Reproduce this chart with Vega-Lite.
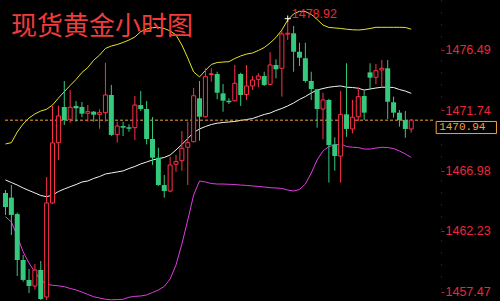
{
  "$schema": "https://vega.github.io/schema/vega-lite/v6.json",
  "width": 500,
  "height": 301,
  "padding": 0,
  "autosize": "none",
  "background": "#000000",
  "config": {
    "view": {"stroke": null},
    "axisX": {"disable": true},
    "axisY": {"grid": false, "title": null}
  },
  "datasets": {
    "candles": [
      {"i":0,"o":1465.22,"h":1465.45,"l":1463.49,"c":1464.11,"u":1469.07,"m":1466.24,"d":1463.35},
      {"i":1,"o":1464.85,"h":1465.84,"l":1461.91,"c":1463.49,"u":1469.17,"m":1466.04,"d":1462.94},
      {"i":2,"o":1463.56,"h":1463.67,"l":1458.69,"c":1459.95,"u":1470.01,"m":1465.84,"d":1461.84},
      {"i":3,"o":1459.95,"h":1460.34,"l":1458.24,"c":1458.38,"u":1470.64,"m":1465.61,"d":1460.58},
      {"i":4,"o":1458.38,"h":1459.24,"l":1457.35,"c":1457.90,"u":1471.11,"m":1465.41,"d":1459.71},
      {"i":5,"o":1457.90,"h":1459.63,"l":1457.64,"c":1459.16,"u":1471.43,"m":1465.22,"d":1459.00},
      {"i":6,"o":1459.16,"h":1459.87,"l":1456.80,"c":1456.88,"u":1471.66,"m":1465.02,"d":1458.38},
      {"i":7,"o":1457.04,"h":1466.47,"l":1456.80,"c":1464.43,"u":1471.80,"m":1464.92,"d":1458.04},
      {"i":8,"o":1464.43,"h":1472.08,"l":1464.35,"c":1469.15,"u":1472.13,"m":1465.06,"d":1457.96},
      {"i":9,"o":1469.17,"h":1472.08,"l":1467.81,"c":1471.27,"u":1472.68,"m":1465.33,"d":1457.92},
      {"i":10,"o":1471.98,"h":1474.02,"l":1470.56,"c":1470.95,"u":1473.18,"m":1465.53,"d":1457.85},
      {"i":11,"o":1471.01,"h":1473.31,"l":1470.74,"c":1471.95,"u":1473.67,"m":1465.71,"d":1457.71},
      {"i":12,"o":1472.06,"h":1472.45,"l":1470.82,"c":1471.87,"u":1474.14,"m":1465.88,"d":1457.59},
      {"i":13,"o":1471.98,"h":1472.37,"l":1471.17,"c":1471.45,"u":1474.69,"m":1466.08,"d":1457.43},
      {"i":14,"o":1471.48,"h":1472.13,"l":1470.82,"c":1471.61,"u":1475.08,"m":1466.16,"d":1457.24},
      {"i":15,"o":1471.61,"h":1471.66,"l":1470.82,"c":1471.37,"u":1475.65,"m":1466.36,"d":1457.06},
      {"i":16,"o":1471.40,"h":1471.80,"l":1470.27,"c":1471.53,"u":1476.06,"m":1466.51,"d":1456.96},
      {"i":17,"o":1471.53,"h":1475.46,"l":1470.82,"c":1472.92,"u":1476.58,"m":1466.71,"d":1456.86},
      {"i":18,"o":1472.92,"h":1473.71,"l":1469.70,"c":1469.78,"u":1476.77,"m":1466.79,"d":1456.82},
      {"i":19,"o":1469.80,"h":1470.82,"l":1469.17,"c":1470.48,"u":1476.89,"m":1466.87,"d":1456.84},
      {"i":20,"o":1470.48,"h":1470.82,"l":1469.70,"c":1470.35,"u":1477.05,"m":1466.95,"d":1456.86},
      {"i":21,"o":1470.38,"h":1470.62,"l":1470.03,"c":1470.27,"u":1477.24,"m":1467.14,"d":1457.02},
      {"i":22,"o":1470.35,"h":1472.84,"l":1469.38,"c":1472.13,"u":1477.48,"m":1467.30,"d":1457.09},
      {"i":23,"o":1472.13,"h":1473.23,"l":1471.66,"c":1471.82,"u":1477.90,"m":1467.50,"d":1457.12},
      {"i":24,"o":1471.82,"h":1472.45,"l":1469.04,"c":1469.46,"u":1478.11,"m":1467.65,"d":1457.20},
      {"i":25,"o":1469.46,"h":1471.19,"l":1467.42,"c":1467.99,"u":1478.21,"m":1467.81,"d":1457.39},
      {"i":26,"o":1467.99,"h":1468.78,"l":1465.77,"c":1465.84,"u":1478.24,"m":1467.91,"d":1457.59},
      {"i":27,"o":1465.84,"h":1466.63,"l":1464.85,"c":1465.37,"u":1478.15,"m":1468.01,"d":1457.87},
      {"i":28,"o":1465.37,"h":1468.07,"l":1465.27,"c":1467.42,"u":1477.95,"m":1468.20,"d":1458.45},
      {"i":29,"o":1467.47,"h":1468.20,"l":1466.89,"c":1467.68,"u":1477.64,"m":1468.60,"d":1459.56},
      {"i":30,"o":1467.75,"h":1470.09,"l":1466.97,"c":1468.73,"u":1476.85,"m":1469.03,"d":1461.21},
      {"i":31,"o":1468.81,"h":1470.82,"l":1465.84,"c":1469.17,"u":1475.83,"m":1469.50,"d":1463.09},
      {"i":32,"o":1469.25,"h":1473.47,"l":1469.19,"c":1472.86,"u":1474.73,"m":1469.97,"d":1465.06},
      {"i":33,"o":1472.66,"h":1474.02,"l":1469.33,"c":1471.21,"u":1474.34,"m":1470.25,"d":1466.16},
      {"i":34,"o":1471.21,"h":1475.02,"l":1471.15,"c":1474.36,"u":1474.85,"m":1470.44,"d":1466.08},
      {"i":35,"o":1474.53,"h":1475.02,"l":1473.97,"c":1474.59,"u":1475.32,"m":1470.60,"d":1465.96},
      {"i":36,"o":1474.57,"h":1474.75,"l":1472.58,"c":1473.10,"u":1475.47,"m":1470.70,"d":1465.92},
      {"i":37,"o":1473.05,"h":1473.78,"l":1471.61,"c":1472.47,"u":1475.51,"m":1470.76,"d":1465.92},
      {"i":38,"o":1472.47,"h":1472.66,"l":1472.21,"c":1472.35,"u":1475.54,"m":1470.80,"d":1465.90},
      {"i":39,"o":1472.47,"h":1475.28,"l":1472.41,"c":1473.84,"u":1475.79,"m":1470.84,"d":1465.88},
      {"i":40,"o":1474.57,"h":1474.67,"l":1472.06,"c":1472.92,"u":1475.99,"m":1470.92,"d":1465.84},
      {"i":41,"o":1472.96,"h":1475.28,"l":1472.53,"c":1473.63,"u":1476.14,"m":1470.99,"d":1465.81},
      {"i":42,"o":1473.63,"h":1474.41,"l":1473.31,"c":1474.10,"u":1476.22,"m":1471.07,"d":1465.77},
      {"i":43,"o":1474.15,"h":1474.63,"l":1473.53,"c":1474.41,"u":1476.42,"m":1471.23,"d":1465.73},
      {"i":44,"o":1474.41,"h":1474.75,"l":1473.63,"c":1473.71,"u":1476.65,"m":1471.39,"d":1465.69},
      {"i":45,"o":1473.76,"h":1476.28,"l":1473.71,"c":1475.28,"u":1477.01,"m":1471.50,"d":1465.63},
      {"i":46,"o":1475.28,"h":1475.73,"l":1474.23,"c":1474.94,"u":1477.44,"m":1471.70,"d":1465.61},
      {"i":47,"o":1475.02,"h":1478.09,"l":1472.79,"c":1477.72,"u":1478.03,"m":1471.86,"d":1465.57},
      {"i":48,"o":1477.70,"h":1478.92,"l":1477.24,"c":1477.78,"u":1478.82,"m":1472.06,"d":1465.45},
      {"i":49,"o":1477.77,"h":1478.34,"l":1474.75,"c":1476.32,"u":1479.29,"m":1472.29,"d":1465.37},
      {"i":50,"o":1476.32,"h":1477.03,"l":1475.20,"c":1475.85,"u":1479.50,"m":1472.57,"d":1465.49},
      {"i":51,"o":1475.81,"h":1477.03,"l":1473.89,"c":1474.02,"u":1479.48,"m":1472.80,"d":1465.92},
      {"i":52,"o":1474.02,"h":1474.75,"l":1472.53,"c":1473.39,"u":1479.25,"m":1473.08,"d":1466.79},
      {"i":53,"o":1473.37,"h":1473.40,"l":1470.35,"c":1471.82,"u":1478.86,"m":1473.31,"d":1467.81},
      {"i":54,"o":1471.82,"h":1473.10,"l":1469.44,"c":1472.53,"u":1478.42,"m":1473.43,"d":1468.52},
      {"i":55,"o":1472.53,"h":1472.61,"l":1466.03,"c":1468.99,"u":1478.23,"m":1473.53,"d":1468.87},
      {"i":56,"o":1469.04,"h":1469.59,"l":1466.97,"c":1468.12,"u":1478.19,"m":1473.59,"d":1468.99},
      {"i":57,"o":1468.12,"h":1473.23,"l":1466.03,"c":1471.40,"u":1478.15,"m":1473.63,"d":1469.07},
      {"i":58,"o":1471.40,"h":1475.41,"l":1469.64,"c":1470.25,"u":1478.09,"m":1473.53,"d":1468.87},
      {"i":59,"o":1470.25,"h":1472.53,"l":1469.91,"c":1471.17,"u":1478.05,"m":1473.51,"d":1468.81},
      {"i":60,"o":1471.21,"h":1473.53,"l":1470.88,"c":1472.79,"u":1478.03,"m":1473.45,"d":1468.79},
      {"i":61,"o":1472.84,"h":1473.26,"l":1470.95,"c":1471.53,"u":1478.07,"m":1473.31,"d":1468.67},
      {"i":62,"o":1474.70,"h":1475.41,"l":1473.37,"c":1474.28,"u":1478.15,"m":1473.39,"d":1468.67},
      {"i":63,"o":1474.31,"h":1475.36,"l":1473.76,"c":1474.83,"u":1478.24,"m":1473.47,"d":1468.75},
      {"i":64,"o":1474.89,"h":1475.67,"l":1473.53,"c":1475.02,"u":1478.24,"m":1473.53,"d":1468.81},
      {"i":65,"o":1475.02,"h":1475.67,"l":1471.03,"c":1472.39,"u":1478.24,"m":1473.53,"d":1468.79},
      {"i":66,"o":1472.35,"h":1472.79,"l":1471.14,"c":1471.53,"u":1478.24,"m":1473.51,"d":1468.71},
      {"i":67,"o":1471.53,"h":1471.74,"l":1470.43,"c":1470.95,"u":1478.24,"m":1473.35,"d":1468.52},
      {"i":68,"o":1470.95,"h":1471.66,"l":1469.56,"c":1470.25,"u":1478.23,"m":1473.23,"d":1468.28},
      {"i":69,"o":1470.25,"h":1471.00,"l":1469.96,"c":1470.94,"u":1478.09,"m":1473.05,"d":1468.02}
    ],
    "marks": [
      {"i": 48, "price": 1478.92, "label": "1478.92"}
    ],
    "titles": [
      {"label": "现货黄金小时图", "x": -0.0833, "y": 1477.64}
    ],
    "last": [
      {"price": 1470.94, "label": "1470.94", "x0": -0.08, "xend": 72.9, "bx": 73.25, "bx2": 83.5, "btop": 1470.84, "bbot": 1469.89, "ty": 1470.37, "tx": 73.75}
    ]
  },
  "layer": [
    {
      "data": {"name": "candles"},
      "mark": {"type": "line", "color": "#e4e42a", "strokeWidth": 1, "clip": true},
      "encoding": {
        "x": {"field": "i", "type": "quantitative", "scale": {"domain": [-0.0833, 83.25], "nice": false, "zero": false}},
        "y": {"field": "u", "type": "quantitative", "title": null,
              "scale": {"domain": [1456.725, 1480.388], "nice": false, "zero": false},
              "axis": {"orient": "right", "offset": -59, "values": [1476.49, 1471.74, 1466.98, 1462.23, 1457.47], "format": ".2f",
                       "labelColor": "#e8283c", "labelFont": "Liberation Sans", "labelFontSize": 12.5,
                       "tickColor": "#b0202c", "tickSize": 3, "labelPadding": 1, "labelFlush": false, "labelOverlap": false,
                       "domainColor": "#3a3a3a", "domainDash": [1, 11], "grid": false, "title": null}}
      }
    },
    {
      "data": {"name": "candles"},
      "mark": {"type": "line", "color": "#f2f2f2", "strokeWidth": 1, "clip": true},
      "encoding": {
        "x": {"field": "i", "type": "quantitative"},
        "y": {"field": "m", "type": "quantitative", "title": null}
      }
    },
    {
      "data": {"name": "candles"},
      "mark": {"type": "line", "color": "#e03ce0", "strokeWidth": 1, "clip": true},
      "encoding": {
        "x": {"field": "i", "type": "quantitative"},
        "y": {"field": "d", "type": "quantitative", "title": null}
      }
    },
    {
      "data": {"name": "last"},
      "mark": {"type": "rule", "color": "#f0a040", "strokeWidth": 1, "strokeDash": [3, 2]},
      "encoding": {
        "x": {"field": "x0", "type": "quantitative"},
        "x2": {"field": "xend"},
        "y": {"field": "price", "type": "quantitative", "title": null}
      }
    },
    {
      "data": {"name": "candles"},
      "mark": {"type": "rule", "strokeWidth": 1},
      "encoding": {
        "x": {"field": "i", "type": "quantitative"},
        "y": {"field": "l", "type": "quantitative", "title": null},
        "y2": {"field": "h"},
        "color": {"condition": {"test": "datum.c >= datum.o", "value": "#ff3048"}, "value": "#34c97c"}
      }
    },
    {
      "data": {"name": "candles"},
      "transform": [{"filter": "datum.c < datum.o"}],
      "mark": {"type": "bar", "width": 5, "color": "#34c97c", "clip": true},
      "encoding": {
        "x": {"field": "i", "type": "quantitative"},
        "y": {"field": "o", "type": "quantitative", "title": null},
        "y2": {"field": "c"}
      }
    },
    {
      "data": {"name": "candles"},
      "transform": [{"filter": "datum.c >= datum.o"}],
      "mark": {"type": "bar", "width": 4, "fill": "#000000", "stroke": "#ff3048", "strokeWidth": 1, "clip": true},
      "encoding": {
        "x": {"field": "i", "type": "quantitative"},
        "y": {"field": "o", "type": "quantitative", "title": null},
        "y2": {"field": "c"}
      }
    },
    {
      "data": {"name": "marks"},
      "mark": {"type": "point", "shape": "M-1,0L1,0M0,-1L0,1", "size": 40, "stroke": "#ffffff", "strokeWidth": 1, "filled": false, "opacity": 1},
      "encoding": {
        "x": {"field": "i", "type": "quantitative"},
        "y": {"field": "price", "type": "quantitative", "title": null}
      }
    },
    {
      "data": {"name": "marks"},
      "mark": {"type": "text", "align": "left", "baseline": "alphabetic", "dx": 4, "dy": -1, "font": "Liberation Sans", "fontSize": 12.5, "color": "#e8283c"},
      "encoding": {
        "x": {"field": "i", "type": "quantitative"},
        "y": {"field": "price", "type": "quantitative", "title": null},
        "text": {"field": "label"}
      }
    },
    {
      "data": {"name": "titles"},
      "mark": {"type": "text", "align": "left", "baseline": "alphabetic", "dx": 6, "font": "Noto Sans CJK SC", "fontSize": 26, "color": "#f03c3c"},
      "encoding": {
        "x": {"field": "x", "type": "quantitative"},
        "y": {"field": "y", "type": "quantitative", "title": null},
        "text": {"field": "label"}
      }
    },
    {
      "data": {"name": "last"},
      "mark": {"type": "rect", "fill": "#000000", "stroke": "#f0a040", "strokeWidth": 1},
      "encoding": {
        "x": {"field": "bx", "type": "quantitative"},
        "x2": {"field": "bx2"},
        "y": {"field": "btop", "type": "quantitative", "title": null},
        "y2": {"field": "bbot"}
      }
    },
    {
      "data": {"name": "last"},
      "mark": {"type": "text", "align": "left", "baseline": "middle", "font": "Liberation Mono", "fontSize": 11, "color": "#f0a040"},
      "encoding": {
        "x": {"field": "tx", "type": "quantitative"},
        "y": {"field": "ty", "type": "quantitative", "title": null},
        "text": {"field": "label"}
      }
    }
  ]
}
